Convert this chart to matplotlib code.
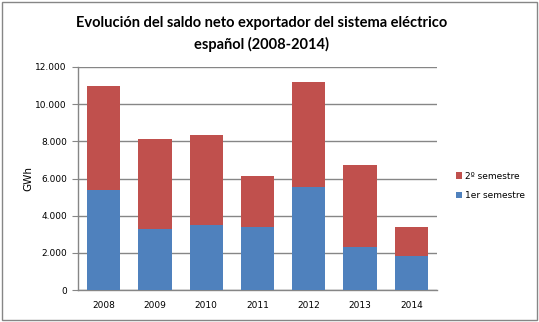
import matplotlib
matplotlib.use("Agg")
import matplotlib.pyplot as plt
from matplotlib.patches import Rectangle

years = ["2008", "2009", "2010", "2011", "2012", "2013", "2014"]
sem1 = [5400, 3280, 3480, 3400, 5530, 2320, 1850]
totals = [11000, 8100, 8320, 6110, 11190, 6700, 3400]
sem2 = [t - s for t, s in zip(totals, sem1)]
yticks = [0, 2000, 4000, 6000, 8000, 10000, 12000]
ytick_labels = ["0", "2.000", "4.000", "6.000", "8.000", "10.000", "12.000"]

blue = "#4F81BD"
red = "#C0504D"
gray = "#868686"

fig = plt.figure(figsize=(5.39, 3.22), dpi=100)
fig.patch.set_facecolor("white")
fig.patches.append(Rectangle((0.004, 0.006), 0.992, 0.988, transform=fig.transFigure,
                             fill=False, edgecolor=gray, linewidth=1.0))

ax = fig.add_axes([78/539, 1-290/322, (437-78)/539, (290-67)/322])
x = range(len(years))
ax.bar(x, sem1, width=0.65, color=blue, label="1er semestre", zorder=3)
ax.bar(x, sem2, width=0.65, bottom=sem1, color=red, label="2º semestre", zorder=3)

ax.set_xlim(-0.5, len(years) - 0.5)
ax.set_ylim(0, 12000)
ax.set_yticks(yticks)
ax.set_yticklabels(ytick_labels, fontsize=6.5, family="DejaVu Sans")
ax.set_xticks(list(x))
ax.set_xticklabels(years, fontsize=6.5, family="DejaVu Sans")
ax.grid(axis="y", color=gray, linewidth=1.0, zorder=0)
for s in ["top", "right"]:
    ax.spines[s].set_visible(False)
for s in ["left", "bottom"]:
    ax.spines[s].set_color(gray)
    ax.spines[s].set_linewidth(1.0)
ax.tick_params(axis="y", length=4, color=gray, pad=4)
ax.tick_params(axis="x", length=0, pad=8)
ax.set_ylabel("GWh", fontsize=7.5, family="DejaVu Sans", labelpad=1)

fig.text(0.485, 0.93, "Evolución del saldo neto exportador del sistema eléctrico",
         ha="center", va="center", fontsize=10.5, fontweight="bold", family="Lato")
fig.text(0.485, 0.862, "español (2008-2014)",
         ha="center", va="center", fontsize=10.5, fontweight="bold", family="Lato")

h, l = ax.get_legend_handles_labels()
leg = fig.legend(h[::-1], l[::-1], loc="center left", bbox_to_anchor=(448/539, 1-186/322),
                 frameon=False, handlelength=0.7, handleheight=0.7,
                 handletextpad=0.3, labelspacing=1.2,
                 prop={"family": "DejaVu Sans", "size": 6.5})

fig.savefig("out.png", dpi=100, facecolor="white")
